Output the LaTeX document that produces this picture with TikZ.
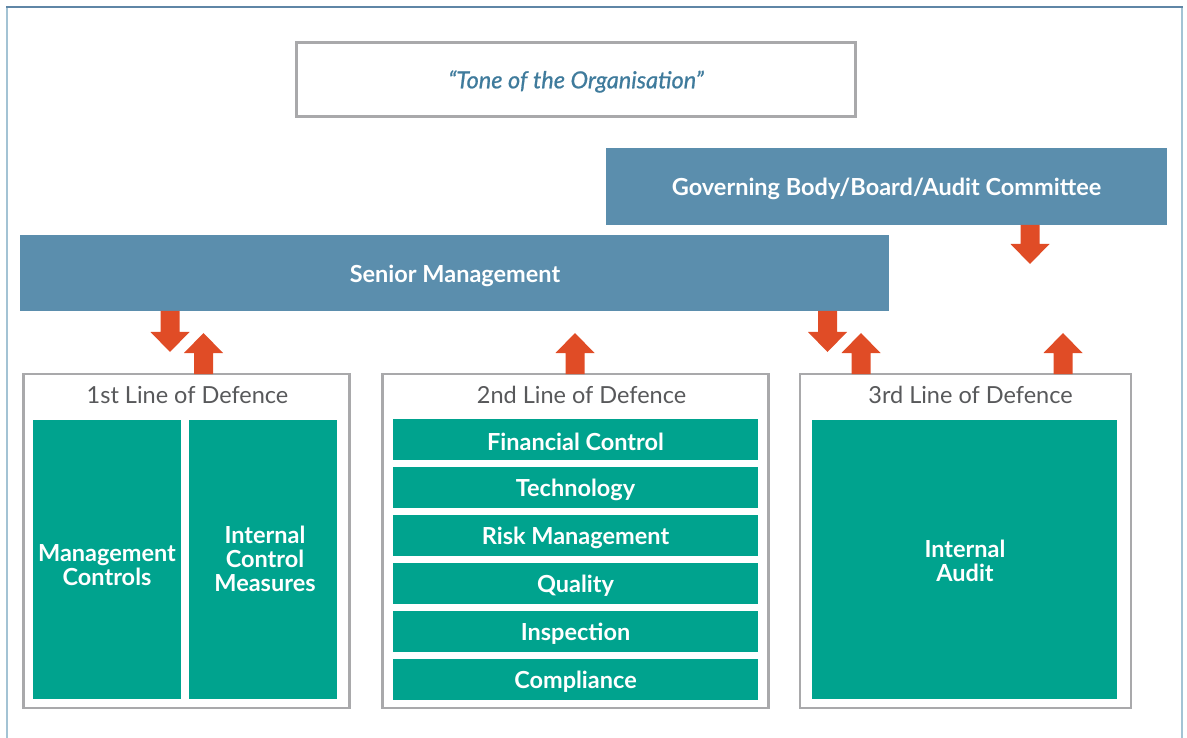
\documentclass[tikz,border=0pt]{standalone}
\usepackage{fontspec}
\setmainfont{Lato}
\usetikzlibrary{calc}

\definecolor{barblue}{HTML}{5B8EAD}
\definecolor{unitteal}{HTML}{00A38E}
\definecolor{flowred}{HTML}{E04C26}
\definecolor{boxgray}{HTML}{A9A9AB}
\definecolor{headgray}{HTML}{58595B}
\definecolor{tonetext}{HTML}{3F7B9C}
\definecolor{frametop}{HTML}{5F86A6}
\definecolor{frameside}{HTML}{A3C3D4}

% block arrow from #1 (tail) to #2 (tip)
\newcommand\blockarrow[2]{%
  \coordinate (ba-h) at ($(#2)!20pt!(#1)$);
  \fill[flowred]
    ($(#1)!9.5pt!90:(#2)$) -- ($(ba-h)!9.5pt!90:(#2)$) --
    ($(ba-h)!19.5pt!90:(#2)$) -- (#2) --
    ($(ba-h)!19.5pt!-90:(#2)$) -- ($(ba-h)!9.5pt!-90:(#2)$) --
    ($(#1)!9.5pt!-90:(#2)$) -- cycle;}

\begin{document}
\begin{tikzpicture}[x=1pt,y=-1pt,
  graybox/.style={draw=boxgray, line width=2.5pt, fill=white, inner sep=0pt,
    outer sep=0pt, anchor=north west},
  bluebar/.style={fill=barblue, inner sep=0pt, outer sep=0pt, anchor=north west},
  bartext/.style={text=white, inner sep=0pt, font=\fontsize{23.5}{26}\selectfont\bfseries},
  unitbox/.style={fill=unitteal, inner sep=0pt, outer sep=0pt, anchor=north west},
  unittext/.style={text=white, align=center, inner sep=0pt,
    font=\fontsize{23.5}{24}\selectfont\bfseries},
  heading/.style={text=headgray, inner sep=0pt, font=\fontsize{23.5}{26}\selectfont},
]
\useasboundingbox (0,0) rectangle (1187,738);

% frame around the page
\draw[frameside, line width=2pt] (7,738) -- (7,7) (1182,7) -- (1182,738);
\draw[frametop, line width=2pt] (6,7) -- (1183,7);

% tone box
\node[graybox, line width=3pt, minimum width=559pt, minimum height=74pt]
  (tone) at (296.5,42.5) {};
\node[text=tonetext, inner sep=0pt,
  font=\fontsize{23.5}{26}\selectfont\itshape\addfontfeatures{FakeBold=0.8}]
  (tonet) at (576,81.5) {“Tone of the Organisation”};

% governing body and senior management bars
\node[bluebar, minimum width=561pt, minimum height=77pt] (gov) at (606,148) {};
\node[bartext] (govt) at (886.5,189) {Governing Body/Board/Audit Committee};
\node[bluebar, minimum width=869pt, minimum height=76pt] (sm) at (20,235) {};
\node[bartext] (smt) at (455,276) {Senior Management};

% three lines of defence
\node[graybox, minimum width=326pt, minimum height=334pt] (l1) at (23.5,374) {};
\node[graybox, minimum width=386pt, minimum height=334pt] (l2) at (382.5,374) {};
\node[graybox, minimum width=331pt, minimum height=334pt] (l3) at (800,374) {};

\node[heading] (l1t) at (187.5,395) {1st Line of Defence};
\node[heading] (l2t) at (581.5,395) {2nd Line of Defence};
\node[heading] (l3t) at (970.5,395) {3rd Line of Defence};

% first line units
\node[unitbox, minimum width=148pt, minimum height=279pt] (mc) at (33,420) {};
\node[unitbox, minimum width=148pt, minimum height=279pt] (icm) at (189,420) {};
\node[unittext] (mct) at (107,565) {Management\\Controls};
\node[unittext] (icmt) at (265,559) {Internal\\Control\\Measures};

% second line units
\foreach \name/\label [count=\i from 0] in {fc/Financial Control, tec/Technology,
    rm/Risk Management, qua/Quality, ins/Inspection, com/Compliance}{
  \node[unitbox, minimum width=365pt, minimum height=41pt] (\name) at (393,419+48*\i) {};
  \node[unittext] (\name-t) at (575.5,441.5+48*\i) {\label};
}

% third line unit
\node[unitbox, minimum width=305pt, minimum height=279pt] (ia) at (812,420) {};
\node[unittext] (iat) at (965,561) {Internal\\Audit};

% reporting arrows
\coordinate (a1s) at (sm.south -| 170,0);   \coordinate (a1e) at (170,352);
\coordinate (a2s) at (l1.north -| 203.5,0); \coordinate (a2e) at (203.5,333);
\coordinate (a3s) at (l2.north -| 575,0);   \coordinate (a3e) at (575,333);
\coordinate (a4s) at (sm.south -| 827.5,0); \coordinate (a4e) at (827.5,352);
\coordinate (a5s) at (l3.north -| 861,0);   \coordinate (a5e) at (861,333);
\coordinate (a6s) at (gov.south -| 1030,0); \coordinate (a6e) at (1030,264);
\coordinate (a7s) at (l3.north -| 1063,0);  \coordinate (a7e) at (1063,333);
\foreach \k in {1,...,7}{
  \blockarrow{a\k s}{a\k e}
}
\end{tikzpicture}
\end{document}
